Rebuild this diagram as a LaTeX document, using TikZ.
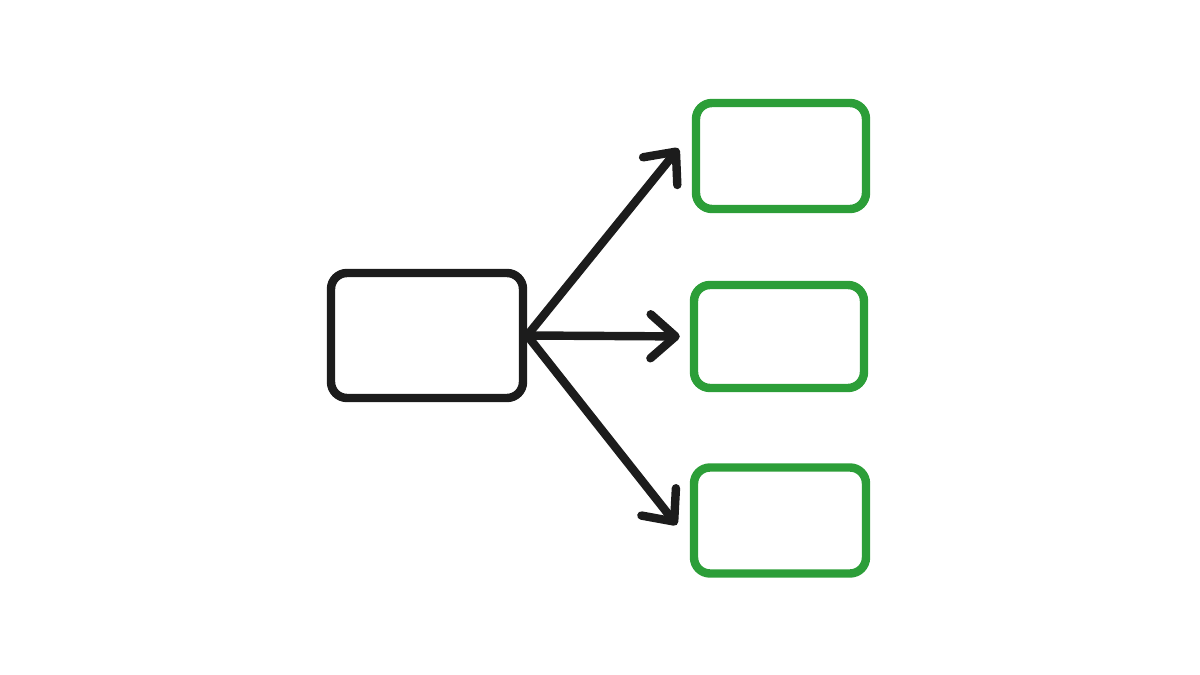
\documentclass[tikz,border=0pt]{standalone}
\usetikzlibrary{arrows.meta}

\definecolor{boxgreen}{RGB}{44,158,56}
\definecolor{inkblack}{RGB}{28,28,28}

\begin{document}
\begin{tikzpicture}[
	box/.style={draw, line width=2.4pt, rounded corners=0.16cm, inner sep=0pt, line join=round},
	srcbox/.style={box, draw=inkblack, minimum width=1.92cm, minimum height=1.25cm},
	outbox/.style={box, draw=boxgreen, minimum width=1.70cm, minimum height=1.06cm},
	pointer/.style={draw=inkblack, line width=2.4pt, line cap=round, -{Straight Barb[length=0.25cm,width=0.44cm,round]}}
]
					\useasboundingbox (0,0) rectangle (12,6.75);
					\node[srcbox] (src) at (4.27,3.395) {};
					\node[outbox] (out1) at (7.81,5.19) {};
					\node[outbox, minimum height=1.03cm] (out2) at (7.79,3.385) {};
					\node[outbox, minimum width=1.72cm] (out3) at (7.80,1.545) {};
					\draw[pointer, shorten >=0.21cm] (src.east) -- (out1.165);
					\draw[pointer, shorten >=0.10cm] (src.east) -- (out2.west);
					\draw[pointer, shorten >=0.21cm] (src.east) -- (out3.193);
				\end{tikzpicture}
\end{document}
